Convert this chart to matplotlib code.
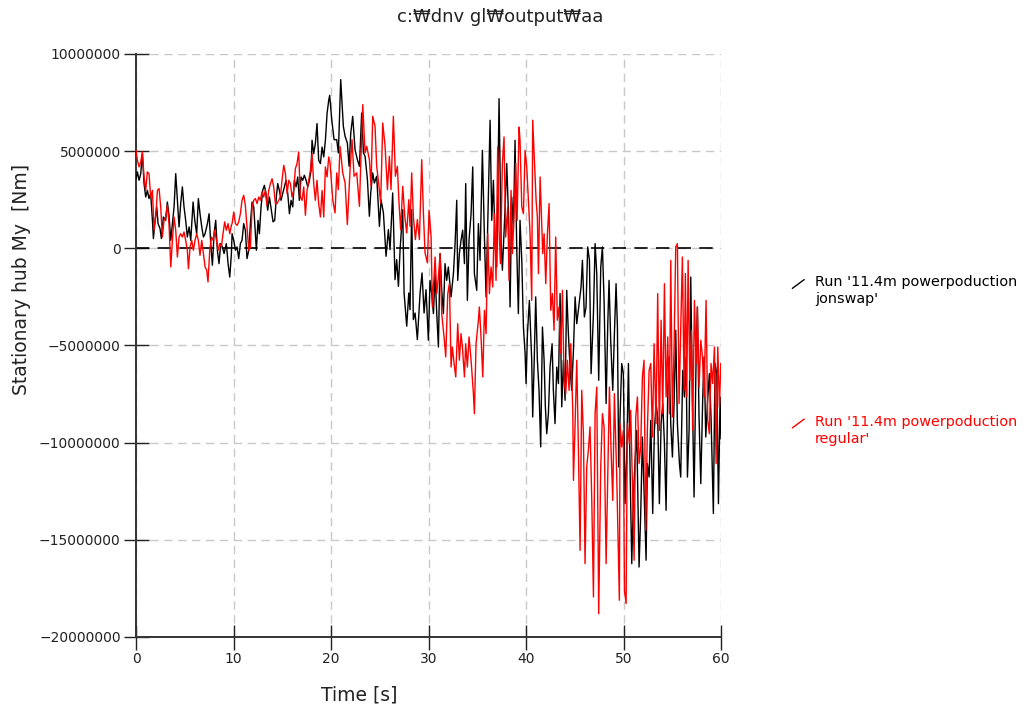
import numpy as np
import matplotlib
matplotlib.use('Agg')
import matplotlib.pyplot as plt
from matplotlib.lines import Line2D

plt.rcParams['font.family'] = ['DejaVu Sans', 'Noto Sans CJK KR']

# -------- Data: (time [s], My [MNm]) --------
jonswap = [
    (0.00, 3.58), (0.14, 3.93), (0.31, 3.50), (0.48, 3.84), (0.65, 4.87), (0.82, 3.33), (0.99, 2.64),
    (1.16, 2.98), (1.33, 2.56), (1.50, 2.81), (1.68, 1.44), (1.78, 0.50), (1.95, 1.44), (2.12, 2.13),
    (2.26, 1.27), (2.46, 1.01), (2.60, 0.50), (2.80, 1.61), (3.04, 1.44), (3.21, 2.38), (3.38, 1.70),
    (3.56, 0.41), (3.73, 1.27), (3.90, 2.13), (4.07, 3.84), (4.24, 2.47), (4.41, 1.10), (4.58, 2.30),
    (4.75, 3.16), (4.92, 2.13), (5.09, 1.44), (5.26, 0.58), (5.44, 1.10), (5.61, 0.41), (5.85, 2.38),
    (6.02, 1.44), (6.22, 0.75), (6.39, 2.56), (6.56, 1.78), (6.74, 1.10), (6.91, 0.58), (7.08, 0.75),
    (7.32, 1.27), (7.49, 1.78), (7.66, 0.24), (7.83, -0.87), (8.00, 0.75), (8.17, 1.44), (8.34, -0.10),
    (8.51, -0.79), (8.68, 0.24), (8.85, 0.07), (9.03, -0.27), (9.26, 0.24), (9.44, -0.79), (9.61, -1.48),
    (9.78, -0.27),
    (9.85, 0.75), (10.02, 0.41), (10.19, -0.10), (10.36, 0.07), (10.53, -0.53), (10.70, 0.24),
    (10.87, 0.41), (11.04, 1.27), (11.21, 0.93), (11.38, -0.53), (11.56, -0.10), (11.73, 1.27),
    (11.90, 2.38), (12.07, 2.13), (12.24, 0.75), (12.34, -0.10), (12.51, 1.44), (12.65, 0.75),
    (12.82, 2.13), (12.99, 2.98), (13.16, 3.24), (13.33, 2.81), (13.50, 1.96), (13.68, 2.64),
    (13.88, 1.96), (14.05, 1.36), (14.22, 1.44), (14.39, 2.64), (14.53, 3.33), (14.70, 2.98),
    (14.87, 2.47), (15.04, 2.81), (15.21, 3.16), (15.38, 3.50), (15.56, 2.81), (15.73, 1.78),
    (15.90, 2.47), (16.07, 2.13), (16.24, 3.50), (16.41, 3.16), (16.58, 3.67), (16.75, 2.47),
    (16.92, 3.67), (17.09, 3.50), (17.26, 3.76), (17.44, 3.50), (17.61, 3.16), (17.78, 3.50),
    (17.95, 4.01), (18.05, 5.56), (18.22, 4.87), (18.39, 5.39), (18.56, 6.42), (18.73, 4.53),
    (18.91, 4.36), (19.08, 5.21), (19.25, 4.70), (19.42, 5.56), (19.59, 6.93), (19.76, 7.62),
    (19.86, 7.87),
    (20.07, 6.62), (20.31, 5.59), (20.58, 5.59), (20.75, 4.91), (20.99, 8.68), (21.26, 6.28),
    (21.44, 5.76), (21.67, 5.42), (21.85, 4.22), (22.02, 5.93), (22.22, 6.79), (22.46, 5.08),
    (22.70, 4.56), (22.91, 4.22), (23.14, 6.96), (23.32, 4.91), (23.49, 4.73), (23.73, 3.53),
    (23.93, 1.65), (24.07, 2.85), (24.27, 3.88), (24.44, 3.36), (24.68, 3.71), (24.96, 1.13),
    (25.13, 2.50), (25.37, 1.82), (25.64, -0.41), (25.88, 0.96), (26.05, -0.07), (26.32, 2.85),
    (26.56, -1.61), (26.73, -0.58), (26.91, -1.96), (27.08, -0.07), (27.35, 1.99), (27.49, -2.30),
    (27.76, -4.01), (27.97, -2.30), (28.10, -3.16), (28.27, 1.99), (28.44, -3.67), (28.62, -3.33),
    (28.85, -4.70), (29.13, -2.30), (29.33, -1.27), (29.54, -3.33), (29.74, -2.13),
    (29.98, -4.73), (30.15, -1.65), (30.32, -2.33), (30.50, -3.36), (30.67, -1.30), (30.84, -3.36),
    (31.01, -5.08), (31.18, -0.27), (31.35, -2.16), (31.52, -3.36), (31.69, -0.79), (31.86, -1.65),
    (32.03, -0.96), (32.31, -2.50), (32.55, -1.30), (32.72, 0.24), (32.89, 2.47), (32.99, -1.65),
    (33.16, -0.27), (33.33, 0.41), (33.50, 0.93), (33.68, -0.79), (33.81, 3.33), (33.98, -2.68),
    (34.15, 0.41), (34.36, 1.78), (34.53, 4.19), (34.70, -1.30), (34.94, -2.16), (35.11, 1.27),
    (35.28, -0.62), (35.52, 5.04), (35.73, 0.58), (35.90, -2.50), (36.07, 1.27), (36.31, 6.59),
    (36.48, 1.44), (36.65, 3.50), (36.82, 0.41), (36.99, -0.96), (37.23, 7.70), (37.44, 0.41),
    (37.57, -1.13), (37.78, 1.27), (38.02, 4.36), (38.19, 1.78), (38.36, -3.02), (38.53, 2.64),
    (38.70, 0.93), (38.87, 5.56), (39.04, 0.07), (39.21, -3.36),
    (39.38, 1.44), (39.56, -0.62), (39.73, -4.05), (39.90, -5.42), (40.00, -6.96), (40.14, -4.39),
    (40.34, -2.68), (40.58, -5.76), (40.68, -8.68), (40.82, -6.11), (40.99, -2.50), (41.16, -5.76),
    (41.33, -7.31), (41.50, -10.22), (41.68, -4.05), (41.85, -5.76), (41.98, -8.16), (42.12, -9.54),
    (42.29, -8.51), (42.46, -6.11), (42.67, -4.91), (42.80, -7.31), (42.97, -9.02), (43.15, -6.11),
    (43.32, -6.96), (43.49, -2.33), (43.66, -8.16), (43.83, -5.76), (44.00, -7.82), (44.17, -2.16),
    (44.34, -4.39), (44.51, -6.11), (44.68, -7.31), (44.86, -5.25), (45.03, -2.50), (45.20, -3.88),
    (45.44, -2.85), (45.64, -1.99), (45.78, -0.62), (45.98, -3.53), (46.15, -3.02), (46.32, 0.07),
    (46.50, -0.62), (46.67, -6.45), (46.91, -3.36), (47.08, 0.24), (47.25, -1.30), (47.45, -6.79),
    (47.66, -0.96), (47.83, 0.07), (48.00, -2.68), (48.21, -7.99), (48.38, -3.88), (48.51, -1.65),
    (48.68, -4.73), (48.89, -7.31), (49.06, -4.39), (49.23, -1.82), (49.37, -4.05), (49.50, -11.25),
    (49.64, -8.68), (49.81, -5.93), (49.98, -6.45), (50.15, -13.14), (50.32, -10.74), (50.50, -5.93),
    (50.67, -11.42), (50.84, -16.23), (51.01, -12.80), (51.18, -10.91), (51.35, -9.37), (51.59, -16.40),
    (51.76, -13.65), (51.93, -9.71), (52.10, -12.45), (52.31, -16.05), (52.44, -11.08), (52.62, -11.77),
    (52.79, -8.85), (52.99, -13.65), (53.16, -9.37), (53.33, -7.99), (53.50, -8.68), (53.67, -13.14),
    (53.85, -9.02), (54.02, -7.99), (54.19, -10.05), (54.36, -13.48), (54.53, -7.31), (54.67, -5.59),
    (54.84, -9.02), (55.01, -10.74), (55.18, -7.99), (55.35, -4.22), (55.52, -9.02), (55.73, -11.08),
    (55.86, -11.77), (56.07, -6.28), (56.24, -7.65), (56.41, -5.59), (56.55, -11.77), (56.72, -9.37),
    (56.89, -1.48), (57.06, -7.65), (57.23, -12.80), (57.44, -5.59), (57.57, -3.02), (57.74, -8.68),
    (57.92, -12.11), (58.12, -7.65), (58.26, -5.59), (58.43, -9.71), (58.60, -7.99), (58.80, -6.45),
    (58.97, -8.68), (59.21, -13.65), (59.38, -5.93), (59.56, -6.45), (59.73, -13.14), (59.90, -7.65),
    (60.00, -9.80),
]

regular = [
    (0.00, 5.04), (0.14, 4.53), (0.31, 4.19), (0.48, 4.44), (0.65, 4.96), (0.82, 3.67), (0.99, 2.98),
    (1.16, 3.93), (1.33, 3.84), (1.50, 2.64), (1.68, 2.98), (1.85, 0.93), (2.02, 1.61), (2.19, 2.98),
    (2.36, 3.07), (2.53, 2.13), (2.70, 0.58), (2.87, 1.44), (3.04, 1.61), (3.21, 2.21), (3.38, 1.27),
    (3.56, -0.96), (3.73, 0.41), (3.90, 1.61), (4.07, 0.93), (4.24, -0.45), (4.41, 0.58), (4.58, 0.75),
    (4.75, 0.58), (4.92, 0.84), (5.09, 0.41), (5.26, -0.10), (5.37, -1.05), (5.54, 0.07), (5.71, 0.41),
    (5.88, -0.10), (6.05, 0.41), (6.22, 0.75), (6.39, 0.41), (6.56, -0.36), (6.74, 0.41), (6.91, -0.27),
    (7.08, -0.96), (7.25, -1.13), (7.38, -1.73), (7.56, -0.10), (7.73, 0.58), (7.90, 0.41), (8.07, 0.93),
    (8.24, 0.41), (8.41, -0.10), (8.58, 0.24), (8.75, 0.07), (8.92, 0.75), (9.09, 1.36), (9.26, 0.93),
    (9.44, 1.27), (9.61, 0.75), (9.78, 1.18),
    (9.85, 1.27), (10.02, 1.87), (10.19, 1.27), (10.36, 1.18), (10.53, 1.36), (10.70, 1.78),
    (10.87, 2.47), (11.04, 2.73), (11.21, 2.21), (11.38, 1.10), (11.56, -0.10), (11.73, 0.07),
    (11.90, 2.13), (12.07, 2.47), (12.24, 2.56), (12.41, 2.30), (12.58, 2.64), (12.75, 2.47),
    (12.92, 2.90), (13.09, 2.64), (13.26, 2.98), (13.43, 2.21), (13.61, 2.98), (13.78, 3.33),
    (13.95, 3.58), (14.12, 3.16), (14.29, 2.30), (14.46, 2.30), (14.63, 2.47), (14.80, 2.64),
    (14.97, 3.50), (15.15, 4.27), (15.32, 3.84), (15.49, 2.81), (15.66, 3.50), (15.83, 3.33),
    (16.00, 2.64), (16.17, 2.98), (16.34, 4.10), (16.51, 4.36), (16.68, 4.96), (16.85, 2.64),
    (17.03, 2.47), (17.20, 3.16), (17.37, 1.70), (17.54, 2.98), (17.71, 3.50), (17.88, 4.01),
    (18.05, 4.87), (18.22, 3.33), (18.39, 2.47), (18.56, 3.50), (18.73, 2.30), (18.91, 1.61),
    (19.08, 2.98), (19.25, 1.61), (19.42, 4.19), (19.59, 3.67), (19.76, 4.70),
    (19.90, 4.39), (20.17, 2.50), (20.41, 1.82), (20.58, 3.88), (20.75, 3.02), (20.92, 5.25),
    (21.20, 3.88), (21.44, 3.36), (21.67, 1.22), (21.95, 4.05), (22.15, 5.59), (22.36, 3.71),
    (22.63, 3.88), (22.91, 2.16), (23.08, 4.91), (23.25, 7.39), (23.49, 4.91), (23.66, 5.25),
    (23.93, 4.56), (24.10, 3.19), (24.27, 6.79), (24.51, 6.28), (24.68, 4.22), (24.92, 3.19),
    (25.09, 2.33), (25.30, 6.45), (25.54, 5.25), (25.78, 3.02), (25.98, 4.73), (26.15, 3.02),
    (26.39, 6.79), (26.60, 3.71), (26.80, 4.22), (26.97, 2.33), (27.14, 0.96), (27.35, 3.19),
    (27.56, 1.65), (27.76, 0.79), (27.97, 2.50), (28.10, 1.13), (28.27, 3.88), (28.44, 1.65),
    (28.65, 0.45), (28.85, 1.48), (29.06, 0.45), (29.30, 4.56), (29.47, 1.82), (29.64, -0.24),
    (29.88, -0.75),
    (30.05, 1.96), (30.26, 0.58), (30.39, -3.02), (30.67, -0.45), (30.84, -2.33), (31.01, -1.48),
    (31.18, -0.27), (31.35, -3.36), (31.62, -4.73), (31.76, -5.59), (31.97, -2.33), (32.14, -1.82),
    (32.31, -6.11), (32.44, -5.08), (32.62, -5.93), (32.79, -6.62), (32.99, -3.88), (33.16, -5.76),
    (33.33, -4.39), (33.47, -5.08), (33.68, -6.62), (33.81, -4.91), (33.98, -6.11), (34.15, -4.56),
    (34.36, -5.76), (34.60, -7.48), (34.70, -8.51), (34.87, -4.91), (35.11, -3.71), (35.21, -3.02),
    (35.38, -4.56), (35.56, -6.62), (35.73, -3.19), (35.90, -4.39), (36.07, 0.75), (36.24, -2.33),
    (36.41, -0.96), (36.58, -1.99), (36.75, 1.78), (36.92, -1.65), (37.09, 5.21), (37.23, 0.93),
    (37.37, -0.79), (37.57, 4.36), (37.74, 5.73), (37.91, 0.58), (38.12, 2.13), (38.26, -1.65),
    (38.46, 2.98), (38.60, -0.27), (38.77, 1.78), (38.94, 4.36), (39.08, 1.44), (39.28, 6.24),
    (39.38, 5.56), (39.56, 2.13), (39.73, 1.78), (39.90, 5.04), (40.07, 4.19), (40.24, 2.47),
    (40.41, 0.75), (40.58, -2.68), (40.68, 6.59), (40.85, 4.53), (41.03, 2.47), (41.16, 1.61),
    (41.27, -1.30), (41.44, 3.67), (41.61, 1.10), (41.71, -0.27), (41.85, 0.75), (42.02, -1.82),
    (42.19, 0.75), (42.36, 2.30), (42.53, -3.19), (42.70, -2.33), (42.87, -4.22), (43.04, 0.58),
    (43.21, -3.70), (43.38, -3.02), (43.56, -5.42), (43.73, -2.16), (43.90, -6.79), (44.07, -7.48),
    (44.24, -5.76), (44.41, -7.31), (44.58, -4.91), (44.79, -8.34), (44.86, -11.94), (45.03, -9.02),
    (45.20, -5.76), (45.37, -10.39), (45.54, -15.54), (45.71, -7.31), (45.88, -9.54), (46.05, -16.23),
    (46.22, -11.25), (46.39, -10.39), (46.56, -9.19), (46.74, -12.97), (46.91, -17.94), (47.08, -8.51),
    (47.25, -7.14), (47.45, -18.80), (47.66, -11.25), (47.83, -8.51), (48.00, -9.19), (48.21, -16.23),
    (48.38, -11.60), (48.55, -7.14), (48.72, -10.39), (48.89, -12.97), (49.06, -7.48), (49.30, -11.77),
    (49.57, -18.11),
    (49.64, -9.02), (49.81, -10.22), (49.98, -9.37), (50.09, -17.60), (50.26, -18.28), (50.39, -9.02),
    (50.60, -10.05), (50.73, -8.34), (50.94, -12.80), (51.08, -16.05), (51.25, -8.68), (51.42, -7.65),
    (51.59, -11.08), (51.76, -10.22), (51.93, -6.62), (52.10, -5.76), (52.27, -14.51), (52.44, -9.37),
    (52.62, -6.28), (52.79, -5.93), (52.96, -9.71), (53.13, -4.91), (53.33, -9.02), (53.50, -2.33),
    (53.67, -9.37), (53.85, -3.70), (54.02, -8.51), (54.19, -1.82), (54.36, -7.65), (54.53, -4.56),
    (54.70, -8.51), (54.84, -0.62), (55.01, -8.68), (55.18, -5.08), (55.35, 0.07), (55.52, 0.24),
    (55.69, -7.99), (55.86, -4.22), (56.03, -0.45), (56.21, -7.31), (56.34, -1.30), (56.48, -7.65),
    (56.62, -0.62), (56.79, -6.79), (56.96, -4.22), (57.09, -9.37), (57.27, -2.68), (57.44, -5.93),
    (57.57, -3.02), (57.74, -7.14), (57.92, -4.73), (58.09, -5.59), (58.26, -7.65), (58.46, -2.68),
    (58.63, -8.85), (58.80, -9.54), (58.97, -5.93), (59.14, -6.96), (59.32, -5.08), (59.49, -11.08),
    (59.66, -5.08), (59.83, -8.17), (59.97, -5.93),
]

y_ticks = [10000000, 5000000, 0, -5000000, -10000000, -15000000, -20000000]
x_ticks = [0, 10, 20, 30, 40, 50, 60]

t_j, m_j = np.array(jonswap).T
t_r, m_r = np.array(regular).T

# -------- Figure --------
fig = plt.figure(figsize=(10.26, 7.11), dpi=100)
ax = fig.add_axes([0.1326, 0.1041, 0.5702, 0.8200])

ax.plot(t_j, m_j * 1e6, color='black', lw=1.0, zorder=3)
ax.plot(t_r, m_r * 1e6, color='red', lw=1.0, zorder=3)

# dashed zero line
ax.axhline(0, color='black', lw=1.2, ls=(0, (8, 5)), zorder=2)

ax.set_xlim(0, 60)
ax.set_ylim(-20000000, 10000000)
ax.set_xticks(x_ticks)
ax.set_yticks(y_ticks)
ax.set_yticklabels([str(v).replace('-', '\u2212') for v in y_ticks])

ax.grid(True, color='#c8c8c8', lw=1.0, ls=(0, (6, 4)), zorder=1)
ax.set_axisbelow(True)

for side in ['top', 'right']:
    ax.spines[side].set_visible(False)
for side in ['left', 'bottom']:
    ax.spines[side].set_color('#333333')
    ax.spines[side].set_linewidth(1.4)

ax.tick_params(direction='inout', length=18, width=1.0, color='#222222',
               labelsize=10, labelcolor='#222222', pad=2)

ax.set_xlabel('Time [s]', fontsize=13.5, color='#222222')
ax.xaxis.set_label_coords(0.381, -0.083)
ax.set_ylabel('Stationary hub My  [Nm]', fontsize=13.5, color='#222222')
ax.yaxis.set_label_coords(-0.18, 0.614)

fig.text(500 / 1026, 1 - 17 / 711, 'c:\u20a9dnv gl\u20a9output\u20a9aa',
         ha='center', va='center', fontsize=13, color='#222222')

# -------- Legend (outside, right) --------
legend_items = [("Run '11.4m powerpoduction\njonswap'", 'black', 1 - 284 / 711),
                ("Run '11.4m powerpoduction\nregular'", 'red', 1 - 423.5 / 711)]
for label, col, yc in legend_items:
    fig.add_artist(Line2D([792.5 / 1026, 804 / 1026], [yc - 0.006, yc + 0.006],
                          color=col, lw=1.0, transform=fig.transFigure))
    fig.text(815 / 1026, yc + 0.012, label, ha='left', va='top',
             fontsize=10.4, color=col, linespacing=1.25)

fig.savefig('out.png', dpi=100)
